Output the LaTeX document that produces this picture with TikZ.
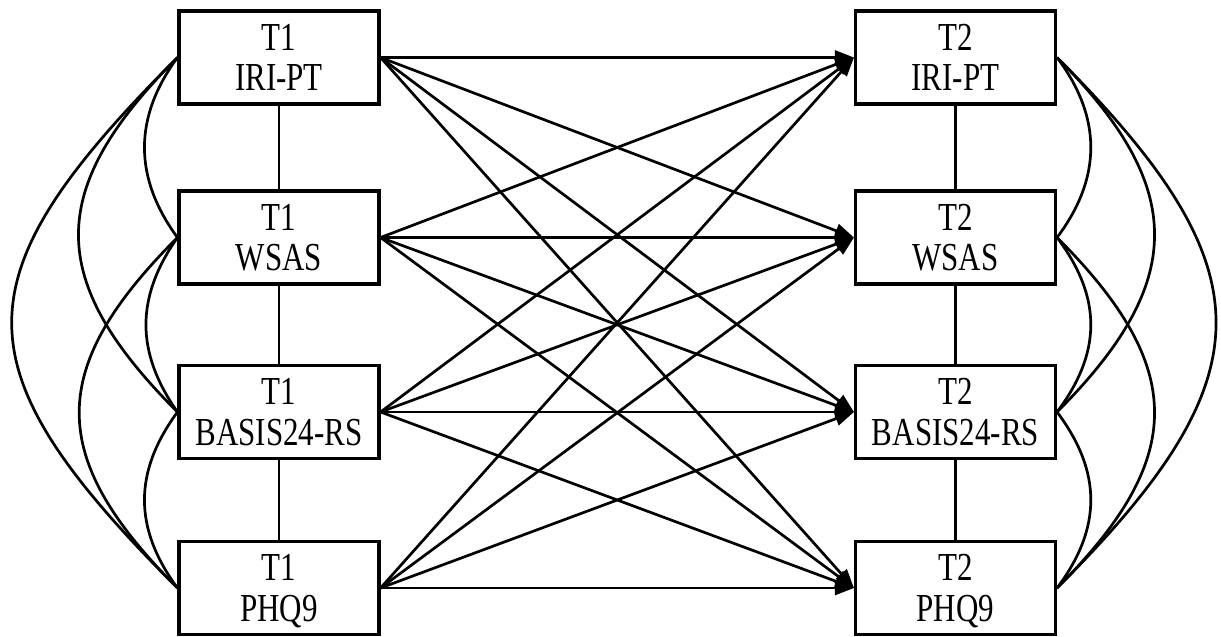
\documentclass[tikz,border=0pt]{standalone}
\usepackage{fontspec}
\setmainfont{Liberation Serif}
\usepackage{graphicx}
\usetikzlibrary{arrows.meta}

% two-line box label, set slightly tall and a little below centre
\newcommand{\twoline}[2]{\raisebox{-5pt}[\height][\depth]{\scalebox{1}[1.28]{\fontsize{31}{31.5}\selectfont\begin{tabular}{@{}c@{}}#1\\#2\end{tabular}}}}

\tikzset{
  varbox/.style={draw, line width=3.1pt, fill=white, inner sep=0pt,
                 minimum width=200pt, minimum height=93pt},
  link/.style={line width=2.7pt},
  path/.style={line width=2.7pt, -{Triangle[length=19pt,width=14pt]}},
}

\begin{document}
\begin{tikzpicture}[x=1pt,y=-1pt]
\useasboundingbox (0,0) rectangle (1221,637);

% time 1 measures
\node[varbox] (L1) at (279,57.5)  {\twoline{T1}{IRI-PT}};
\node[varbox] (L2) at (279,237.5) {\twoline{T1}{WSAS}};
\node[varbox] (L3) at (279,412)   {\twoline{T1}{BASIS24-RS}};
\node[varbox] (L4) at (279,588)   {\twoline{T1}{PHQ9}};

% time 2 measures
\node[varbox] (R1) at (955.5,57.5)  {\twoline{T2}{IRI-PT}};
\node[varbox] (R2) at (955.5,237.5) {\twoline{T2}{WSAS}};
\node[varbox] (R3) at (955.5,412)   {\twoline{T2}{BASIS24-RS}};
\node[varbox] (R4) at (955.5,588)   {\twoline{T2}{PHQ9}};

% within-column links
\foreach \a/\b in {L1/L2,L2/L3,L3/L4,R1/R2,R2/R3,R3/R4}
  \draw[link] (\a.south) -- (\b.north);

% cross-lagged and autoregressive paths
\foreach \s in {L1,L2,L3,L4}
  \foreach \t in {R1,R2,R3,R4}
    \draw[path] (\s.east) -- (\t.west);

% covariances among time 1 measures
\draw[link] (L1.west) .. controls +(-44,60)   and +(-44,-60)   .. (L2.west);
\draw[link] (L1.west) .. controls +(-132,132) and +(-132,-132) .. (L3.west);
\draw[link] (L1.west) .. controls +(-221,221) and +(-221,-221) .. (L4.west);
\draw[link] (L2.west) .. controls +(-42,60)   and +(-42,-60)   .. (L3.west);
\draw[link] (L2.west) .. controls +(-131,131) and +(-131,-131) .. (L4.west);
\draw[link] (L3.west) .. controls +(-44,60)   and +(-44,-60)   .. (L4.west);

% covariances among time 2 measures
\draw[link] (R1.east) .. controls +(45,60)   and +(45,-60)   .. (R2.east);
\draw[link] (R1.east) .. controls +(130,130) and +(130,-130) .. (R3.east);
\draw[link] (R1.east) .. controls +(212,212) and +(212,-212) .. (R4.east);
\draw[link] (R2.east) .. controls +(45,60)   and +(45,-60)   .. (R3.east);
\draw[link] (R2.east) .. controls +(130,130) and +(130,-130) .. (R4.east);
\draw[link] (R3.east) .. controls +(45,60)   and +(45,-60)   .. (R4.east);
\end{tikzpicture}
\end{document}
